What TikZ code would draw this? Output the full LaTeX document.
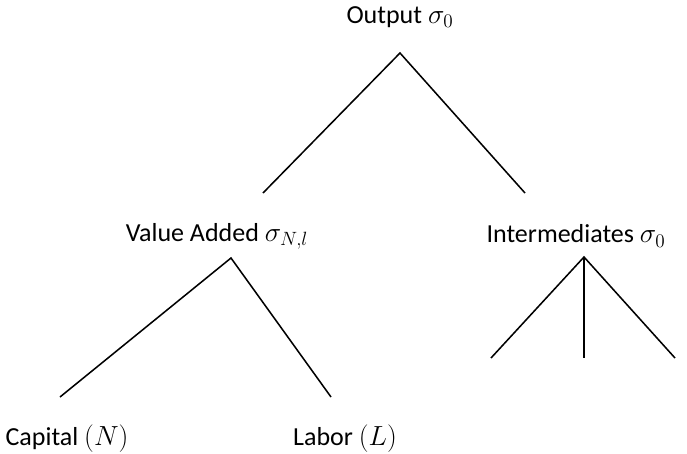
\documentclass[tikz,border=0pt]{standalone}
\usepackage{fontspec}
\setmainfont{Carlito}
\begin{document}
\begin{tikzpicture}[x=0.75pt,y=-0.75pt,
  lbl/.style={inner sep=0pt,font=\fontsize{19.5}{23}\selectfont},
  branch/.style={line width=1.15pt,black}]
\useasboundingbox (0,0) rectangle (687,454);
% labels
\node[lbl] (out) at (400,17) {Output $\sigma_0$};
\node[lbl] (va)  at (217,236) {Value Added $\sigma_{N,l}$};
\node[lbl] (int) at (576,236) {Intermediates $\sigma_0$};
\node[lbl] (cap) at (67,439) {Capital $(N)$};
\node[lbl] (lab) at (345,439) {Labor $(L)$};
% branch points and free ends
\coordinate (o0) at (400,53);
\coordinate (o1) at (263,193);
\coordinate (o2) at (525,193);
\coordinate (v0) at (231,258);
\coordinate (v1) at (60,397);
\coordinate (v2) at (331,397);
\coordinate (i0) at (584,257);
\coordinate (i1) at (491,358);
\coordinate (i2) at (584,358);
\coordinate (i3) at (675,358);
% branches
\draw[branch] (o1) -- (o0) -- (o2);
\draw[branch] (v1) -- (v0) -- (v2);
\draw[branch] (i1) -- (i0) -- (i3);
\draw[branch] (i0) -- (i2);
\end{tikzpicture}
\end{document}
